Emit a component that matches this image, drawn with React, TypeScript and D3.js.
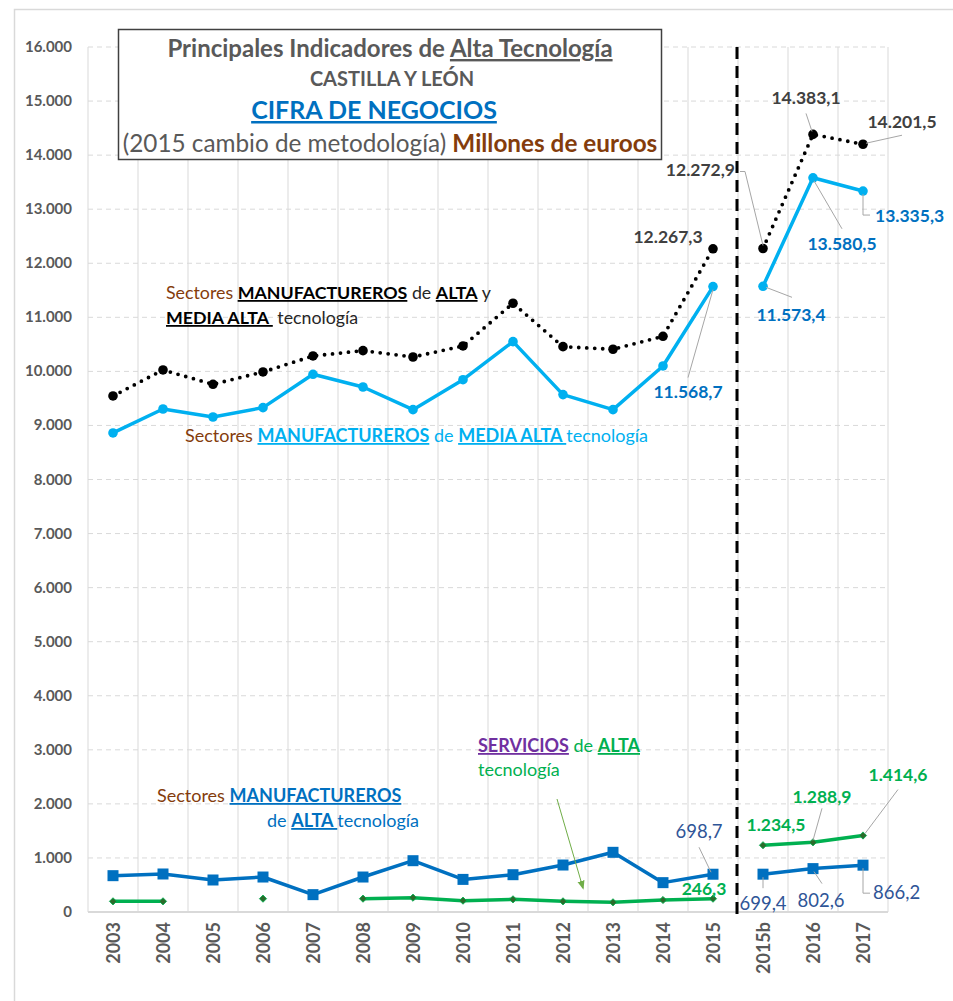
import React from 'react';
import * as d3 from 'd3';

const categories = ['2003', '2004', '2005', '2006', '2007', '2008', '2009', '2010', '2011', '2012', '2013', '2014', '2015', '2015b', '2016', '2017'];
// Sectores manufactureros de alta y media alta tecnología
const altaMediaAlta = [9545, 10026, 9761, 9989, 10285, 10383, 10266, 10470, 11260, 10457, 10409, 10649, 12267.3, 12272.9, 14383.1, 14201.5];
// Sectores manufactureros de media alta tecnología
const mediaAlta = [8861, 9304, 9156, 9329, 9946, 9711, 9292, 9846, 10550, 9570, 9292, 10100, 11568.7, 11573.4, 13580.5, 13335.3];
// Sectores manufactureros de alta tecnología
const alta = [672, 703, 592, 647, 321, 647, 949, 603, 690, 869, 1104, 543, 698.7, 699.4, 802.6, 866.2];
// Servicios de alta tecnología
const servicios = [197, 197, null, 247, null, 247, 265, 210, 234, 197, 179, 222, 246.3, 1234.5, 1288.9, 1414.6];
const yTicks = d3.range(0, 16001, 1000);
const breakAfter = '2015';

const es = d3.formatLocale({ decimal: ',', thousands: '.', grouping: [3], currency: ['', ' €'] });
const fmtTick = es.format(',.0f');
const fmtVal = es.format(',.1f');

const FONT = 'Lato, "Open Sans", sans-serif';
const W = 953;
const H = 1001;

type Seg = { t: string; b?: boolean; c?: string; u?: boolean };

const Rich = ({ x, y, size, segs, anchor = 'start' }: { x: number; y: number; size: number; segs: Seg[]; anchor?: string }) => (
  <text x={x} y={y} fontSize={size} fontFamily={FONT} textAnchor={anchor} style={{ whiteSpace: 'pre' }}>
    {segs.map((s, i) => (
      <tspan key={i} fill={s.c || '#404040'} fontWeight={s.b ? 700 : 400} textDecoration={s.u ? 'underline' : undefined}>
        {s.t}
      </tspan>
    ))}
  </text>
);

// labels: which point, offset of the text, leader line points (relative to the point)
type Lbl = { i: number; dx: number; dy: number; anchor?: string; leader?: number[][] };
const labelsTotal: Lbl[] = [
  { i: 12, dx: -45, dy: -6 },
  { i: 13, dx: -28, dy: -72, anchor: 'end', leader: [[0, -3], [-18, -77], [-23, -77]] },
  { i: 14, dx: -7, dy: -30, leader: [[-1, -3], [-7, -21]] },
  { i: 15, dx: 39, dy: -16, leader: [[3, -1], [39, -9]] },
];
const labelsMedia: Lbl[] = [
  { i: 12, dx: -25, dy: 111, leader: [[0, 3], [-25, 91]] },
  { i: 13, dx: 28, dy: 35, leader: [[3, 1], [29, 11]] },
  { i: 14, dx: 29, dy: 72, leader: [[1, 3], [29, 51]] },
  { i: 15, dx: 12, dy: 31, anchor: 'start', leader: [[0, 3], [0, 24], [7, 24]] },
];
const labelsAlta: Lbl[] = [
  { i: 12, dx: -14, dy: -36, leader: [[-2, -2], [-14, -27]] },
  { i: 13, dx: 0, dy: 36, leader: [[0, 3], [0, 14]] },
  { i: 14, dx: 8, dy: 38, leader: [[1, 3], [9, 15]] },
  { i: 15, dx: 10, dy: 34, anchor: 'start', leader: [[0, 3], [0, 28], [7, 28]] },
];
const labelsServ: Lbl[] = [
  { i: 12, dx: -9, dy: -4 },
  { i: 13, dx: 13, dy: -14 },
  { i: 14, dx: 9, dy: -39, leader: [[0, -2], [9, -34]] },
  { i: 15, dx: 35, dy: -55, leader: [[2, -2], [35, -46]] },
];

const App = () => {
  const x = d3.scaleBand().domain(categories).range([88, 888]);
  const y = d3.scaleLinear().domain([0, 16000]).range([912, 47]);
  const cx = (c: string) => (x(c) as number) + x.bandwidth() / 2;
  const split = categories.indexOf(breakAfter);

  const makePaths = (vals: (number | null)[]) => {
    const pts = vals.map((v, i) => ({ c: categories[i], v, i }));
    const line = d3
      .line<{ c: string; v: number | null; i: number }>()
      .defined((d) => d.v != null)
      .x((d) => cx(d.c))
      .y((d) => y(d.v as number));
    return [line(pts.slice(0, split + 1)), line(pts.slice(split + 1))];
  };

  const leaderPath = d3.line();

  const renderLabels = (vals: (number | null)[], lbls: Lbl[], color: string, bold: boolean) =>
    lbls.map((l) => {
      const px = cx(categories[l.i]);
      const py = y(vals[l.i] as number);
      return (
        <g key={l.i}>
          {l.leader && (
            <path
              d={leaderPath(l.leader.map(([a, b]) => [px + a, py + b]) as [number, number][]) as string}
              fill="none"
              stroke="#a6a6a6"
              strokeWidth={1}
            />
          )}
          <text
            x={px + l.dx}
            y={py + l.dy}
            textAnchor={l.anchor || 'middle'}
            fontFamily={FONT}
            fontSize={bold ? 17.5 : 18.5}
            fontWeight={bold ? 700 : 400}
            fill={color}
          >
            {fmtVal(vals[l.i] as number)}
          </text>
        </g>
      );
    });

  const diamond = d3.symbol(d3.symbolSquare, 26)() as string;
  const dashX = (x(breakAfter) as number) + x.step() - 1;

  return (
    <svg width={W} height={H} style={{ position: 'absolute', left: 0, top: 0 }} fontFamily={FONT}>
      <defs>
        <marker id="arr" viewBox="0 0 10 10" refX="8" refY="5" markerWidth="9" markerHeight="9" orient="auto">
          <path d="M0,1 L10,5 L0,9 Z" fill="#70ad47" />
        </marker>
      </defs>
      <rect x={0} y={0} width={W} height={H} fill="#fff" />
      <rect x={14.5} y={9.5} width={W} height={H} fill="none" stroke="#d9d9d9" strokeWidth={1.5} />

      {/* grid */}
      {categories.map((c) => (
        <line key={c} x1={x(c)} x2={x(c)} y1={y(16000)} y2={y(0)} stroke="#d9d9d9" strokeWidth={1} />
      ))}
      <line x1={888} x2={888} y1={y(16000)} y2={y(0)} stroke="#d9d9d9" strokeWidth={1} />
      {yTicks.slice(1).map((t) => (
        <line key={t} x1={88} x2={888} y1={y(t)} y2={y(t)} stroke="#d9d9d9" strokeDasharray="5 4" strokeWidth={1} />
      ))}
      <line x1={88} x2={888} y1={y(0)} y2={y(0)} stroke="#d9d9d9" strokeWidth={2} />

      {/* y labels */}
      {yTicks.map((t) => (
        <text key={t} x={72} y={y(t) + 5} textAnchor="end" fontSize={15} fontWeight={700} fill="#595959">
          {fmtTick(t)}
        </text>
      ))}
      {/* x labels */}
      {categories.map((c) => (
        <text
          key={c}
          transform={`translate(${cx(c) + 6.5},922) rotate(-90)`}
          textAnchor="end"
          fontSize={18}
          fontWeight={700}
          fill="#595959"
        >
          {c}
        </text>
      ))}

      {/* break line */}
      <line x1={dashX} x2={dashX} y1={y(16000)} y2={y(0) + 6} stroke="#000" strokeWidth={3} strokeDasharray="12 7" />

      {/* series */}
      {makePaths(altaMediaAlta).map((d, i) => (
        <path key={'t' + i} d={d as string} fill="none" stroke="#000" strokeWidth={3.8} strokeDasharray="0 8" strokeLinecap="round" />
      ))}
      {altaMediaAlta.map((v, i) => (
        <circle key={'tc' + i} cx={cx(categories[i])} cy={y(v)} r={4.8} fill="#000" />
      ))}
      {makePaths(mediaAlta).map((d, i) => (
        <path key={'m' + i} d={d as string} fill="none" stroke="#00b0f0" strokeWidth={3.5} strokeLinejoin="round" />
      ))}
      {mediaAlta.map((v, i) => (
        <circle key={'mc' + i} cx={cx(categories[i])} cy={y(v)} r={4.8} fill="#00b0f0" />
      ))}
      {makePaths(alta).map((d, i) => (
        <path key={'a' + i} d={d as string} fill="none" stroke="#0070c0" strokeWidth={3.5} strokeLinejoin="round" />
      ))}
      {alta.map((v, i) => (
        <rect key={'ar' + i} x={cx(categories[i]) - 5.5} y={y(v) - 5.5} width={11} height={11} fill="#0070c0" />
      ))}
      {makePaths(servicios).map((d, i) => (
        <path key={'s' + i} d={d as string} fill="none" stroke="#00b050" strokeWidth={3.5} strokeLinejoin="round" />
      ))}
      {servicios.map((v, i) =>
        v == null ? null : (
          <path
            key={'sd' + i}
            d={diamond}
            transform={`translate(${cx(categories[i])},${y(v)}) rotate(45)`}
            fill="#2b6b2b"
            stroke="#00b050"
            strokeWidth={0.8}
          />
        ),
      )}

      {/* data labels */}
      {renderLabels(altaMediaAlta, labelsTotal, '#404040', true)}
      {renderLabels(mediaAlta, labelsMedia, '#0070c0', true)}
      {renderLabels(alta, labelsAlta, '#2f5597', false)}
      {renderLabels(servicios, labelsServ, '#00b050', true)}

      {/* title box */}
      <rect x={118.5} y={29.5} width={543} height={130} fill="#fff" stroke="#404040" strokeWidth={1.5} />
      <Rich x={390} y={57} size={24} anchor="middle" segs={[{ t: 'Principales Indicadores de ', b: true, c: '#595959' }, { t: 'Alta Tecnología', b: true, c: '#595959', u: true }]} />
      <Rich x={392} y={86} size={20} anchor="middle" segs={[{ t: 'CASTILLA Y LEÓN', b: true, c: '#595959' }]} />
      <Rich x={374} y={119} size={25} anchor="middle" segs={[{ t: 'CIFRA DE NEGOCIOS', b: true, c: '#0070c0', u: true }]} />
      <Rich
        x={390}
        y={152}
        size={24.3}
        anchor="middle"
        segs={[{ t: '(2015 cambio de metodología) ', c: '#595959' }, { t: 'Millones de euroos', b: true, c: '#843c0c' }]}
      />

      {/* series annotations */}
      <Rich
        x={166}
        y={299}
        size={17.8}
        segs={[
          { t: 'Sectores ', c: '#843c0c' },
          { t: 'MANUFACTUREROS', b: true, c: '#000', u: true },
          { t: ' de ', c: '#262626' },
          { t: 'ALTA', b: true, c: '#000', u: true },
          { t: ' y', c: '#262626' },
        ]}
      />
      <Rich x={166} y={324} size={17.8} segs={[{ t: 'MEDIA ALTA ', b: true, c: '#000', u: true }, { t: ' tecnología', c: '#262626' }]} />
      <Rich
        x={185}
        y={442}
        size={18}
        segs={[
          { t: 'Sectores ', c: '#843c0c' },
          { t: 'MANUFACTUREROS', b: true, c: '#00b0f0', u: true },
          { t: ' de ', c: '#00b0f0' },
          { t: 'MEDIA ALTA ', b: true, c: '#00b0f0', u: true },
          { t: 'tecnología', c: '#00b0f0' },
        ]}
      />
      <Rich
        x={478}
        y={752}
        size={18}
        segs={[
          { t: 'SERVICIOS', b: true, c: '#7030a0', u: true },
          { t: ' de ', c: '#00b050' },
          { t: 'ALTA', b: true, c: '#00b050', u: true },
        ]}
      />
      <Rich x={478} y={776} size={18} segs={[{ t: 'tecnología', c: '#00b050' }]} />
      <line x1={557} y1={799} x2={583} y2={888} stroke="#70ad47" strokeWidth={1} markerEnd="url(#arr)" />
      <Rich
        x={157}
        y={802}
        size={18}
        segs={[
          { t: 'Sectores ', c: '#843c0c' },
          { t: 'MANUFACTUREROS', b: true, c: '#0070c0', u: true },
        ]}
      />
      <Rich
        x={267}
        y={827}
        size={18}
        segs={[
          { t: 'de ', c: '#0070c0' },
          { t: 'ALTA ', b: true, c: '#0070c0', u: true },
          { t: 'tecnología', c: '#0070c0' },
        ]}
      />
    </svg>
  );
};

export default App;
